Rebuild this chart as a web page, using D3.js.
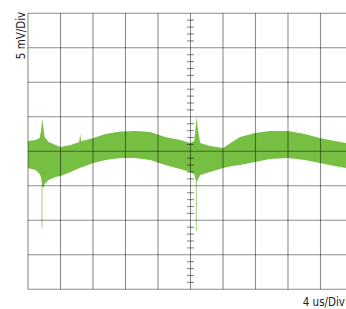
<!DOCTYPE html>
<html lang="en">
<head>
	<meta charset="UTF-8">
	<title>Scope</title>
	<style type="text/css">
	body { margin: 0; background: #fff; }
	text { font-family: "Liberation Sans Narrow", "DejaVu Sans Condensed", sans-serif; font-stretch: condensed; font-size: 11.5px; fill: #222; }
	</style>
</head>
<body>
</body>
<script src="https://cdn.jsdelivr.net/npm/d3@7/dist/d3.min.js"></script>
<script>
// envelope of the noisy trace, time in us, amplitude in mV
var timeUs  = [0, 0.94, 1.44, 1.62, 1.74, 1.87, 2.05, 2.54, 3.39, 4.0, 5.24, 6.3, 6.42, 6.54, 8.06, 9.53, 11.37, 13.21, 15.05, 16.89, 18.73, 19.96, 20.45, 20.64, 20.76, 20.88, 21.19, 22.42, 24.02, 25.12, 26.10, 27.94, 29.78, 31.99, 34.07, 35.91, 37.75, 40]
var upperMv = [1.49, 1.64, 1.93, 3.09, 4.68, 3.67, 2.07, 1.35, 0.91, 0.62, 0.91, 1.35, 2.5, 1.45, 1.93, 2.51, 2.87, 2.94, 2.80, 2.07, 1.64, 1.20, 1.49, 3.38, 4.97, 3.38, 1.20, 0.77, 0.48, 1.35, 2.07, 2.65, 2.94, 2.94, 2.51, 1.93, 1.49, 1.05]
var lowerMv = [-2.42, -2.71, -3.29, -3.87, -5.03, -5.32, -4.74, -4.16, -3.72, -3.58, -3.00, -2.45, -2.4, -2.35, -1.70, -1.26, -0.97, -0.97, -1.26, -1.99, -2.56, -3.00, -3.29, -4.16, -4.59, -4.16, -3.43, -3.00, -2.42, -2.13, -1.99, -1.55, -1.11, -0.97, -1.26, -1.70, -2.13, -2.6]

// thin glitches below the band
var spikeTimeUs = [1.72, 20.72]
var spikeTopMv  = [-5.0, -4.2]
var spikeLowMv  = [-11.1, -11.5]

var xDivs = d3.range(0, 44, 4)      // 4 us/Div
var yDivs = d3.range(-20, 25, 5)    // 5 mV/Div

var W = 346, H = 309

var x = d3.scaleLinear().domain([0, 40]).range([28, 353])
var y = d3.scaleLinear().domain([-20, 20]).range([289.3, 13.3])

var svg = d3.select("body").append("svg")
    .attr("width", W)
    .attr("height", H)

svg.append("defs").append("clipPath").attr("id", "clip")
  .append("rect").attr("x", 0).attr("y", 0).attr("width", W).attr("height", H)

var plot = svg.append("g").attr("clip-path", "url(#clip)")

var trace = timeUs.map(function (t, i) {
	return {t: t, hi: upperMv[i], lo: lowerMv[i]}
})

plot.append("path")
    .datum(trace)
    .attr("fill", "#76bf43")
    .attr("d", d3.area()
        .x(function (d) { return x(d.t) })
        .y0(function (d) { return y(d.lo) })
        .y1(function (d) { return y(d.hi) }))

plot.selectAll(".spike")
    .data(spikeTimeUs)
    .enter().append("line")
    .attr("class", "spike")
    .attr("x1", function (d) { return x(d) })
    .attr("x2", function (d) { return x(d) })
    .attr("y1", function (d, i) { return y(spikeTopMv[i]) })
    .attr("y2", function (d, i) { return y(spikeLowMv[i]) })
    .attr("stroke", "#9fd37f")
    .attr("stroke-width", 1)

// graticule on top of the trace
var grid = plot.append("g")
    .attr("stroke", "#000")
    .attr("stroke-opacity", 0.45)
    .attr("stroke-width", 1.1)

grid.selectAll(".vx")
    .data(xDivs)
    .enter().append("line")
    .attr("x1", function (d) { return x(d) })
    .attr("x2", function (d) { return x(d) })
    .attr("y1", y(20))
    .attr("y2", y(-20))

grid.selectAll(".hy")
    .data(yDivs)
    .enter().append("line")
    .attr("x1", x(0))
    .attr("x2", W)
    .attr("y1", function (d) { return y(d) })
    .attr("y2", function (d) { return y(d) })

// minor ticks on the centre vertical
var minor = d3.range(-20, 20.01, 1).filter(function (d) { return d % 5 !== 0 })
grid.selectAll(".mt")
    .data(minor)
    .enter().append("line")
    .attr("x1", x(20) - 3.5)
    .attr("x2", x(20) + 3.5)
    .attr("y1", function (d) { return y(d) })
    .attr("y2", function (d) { return y(d) })

svg.append("text")
    .attr("transform", "translate(24.5,35.5) rotate(-90)")
    .attr("text-anchor", "middle")
    .text("5 mV/Div")

svg.append("text")
    .attr("x", 345)
    .attr("y", 306)
    .attr("text-anchor", "end")
    .text("4 us/Div")
</script>
</html>
